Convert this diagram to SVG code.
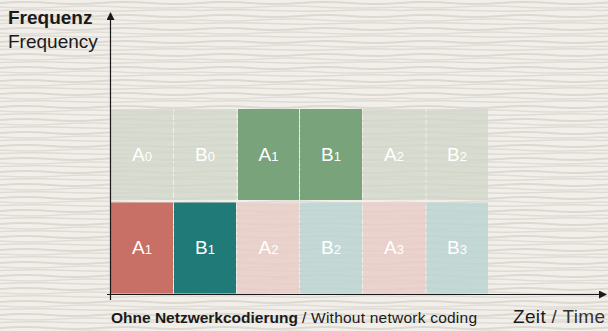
<svg xmlns="http://www.w3.org/2000/svg" width="608" height="331" viewBox="0 0 608 331">
<style>
.lbl{font-family:"Liberation Sans",Arial,sans-serif;font-size:19px;fill:#ffffff;text-anchor:middle}
.sub{font-size:13px}
.ax{stroke:#1a1a1a;stroke-width:1.2;fill:none}
.t{font-family:"Liberation Sans",Arial,sans-serif;fill:#1a1a1a}
</style>
<defs>
<pattern id="wave" x="0" y="0" width="200" height="13" patternUnits="userSpaceOnUse">
<path d="M0 3 Q25 1 50 3 T100 3 T150 3 T200 3" stroke="#dcd9d1" stroke-width="1.8" fill="none"/>
<path d="M0 7 Q30 9 60 7 T120 7 T200 7" stroke="#e0ddd6" stroke-width="1.4" fill="none"/>
<path d="M0 10.5 Q35 9 70 10.5 T140 10.5 T200 10.5" stroke="#dedbd4" stroke-width="1.6" fill="none"/>
</pattern>
<marker id="ah" markerWidth="8" markerHeight="8" refX="7" refY="4" orient="auto" markerUnits="userSpaceOnUse">
<path d="M0 0 L8 4 L0 8 Z" fill="#1a1a1a"/>
</marker>
</defs>
<rect width="608" height="331" fill="#f2efeb"/>
<rect width="608" height="331" fill="url(#wave)"/>
<g id="cells">
<g id="A0"><rect x="111" y="109" width="62" height="91" fill="#d2d7c9" fill-opacity="0.8"/><text class="lbl" x="142" y="161">A<tspan class="sub">0</tspan></text></g>
<g id="B0"><rect x="174" y="109" width="62.5" height="91" fill="#d2d7c9" fill-opacity="0.8"/><text class="lbl" x="205" y="161">B<tspan class="sub">0</tspan></text></g>
<g id="A1top"><rect x="238" y="109" width="61" height="91" fill="#79a37b"/><text class="lbl" x="268.5" y="161">A<tspan class="sub">1</tspan></text></g>
<g id="B1top"><rect x="300" y="109" width="62" height="91" fill="#79a37b"/><text class="lbl" x="331" y="161">B<tspan class="sub">1</tspan></text></g>
<g id="A2top"><rect x="363" y="109" width="62.5" height="91" fill="#d2d7c9" fill-opacity="0.8"/><text class="lbl" x="394" y="161">A<tspan class="sub">2</tspan></text></g>
<g id="B2top"><rect x="426.5" y="109" width="61.5" height="91" fill="#d2d7c9" fill-opacity="0.8"/><text class="lbl" x="457" y="161">B<tspan class="sub">2</tspan></text></g>
<g id="A1bot"><rect x="111" y="202.5" width="62" height="91" fill="#c86f66"/><text class="lbl" x="142" y="254">A<tspan class="sub">1</tspan></text></g>
<g id="B1bot"><rect x="174" y="202.5" width="62" height="91" fill="#207a77"/><text class="lbl" x="205" y="254">B<tspan class="sub">1</tspan></text></g>
<g id="A2bot"><rect x="237" y="202.5" width="62" height="91" fill="#e9cdc8" fill-opacity="0.85"/><text class="lbl" x="268.5" y="254">A<tspan class="sub">2</tspan></text></g>
<g id="B2bot"><rect x="300" y="202.5" width="62" height="91" fill="#bcd5d2" fill-opacity="0.85"/><text class="lbl" x="331" y="254">B<tspan class="sub">2</tspan></text></g>
<g id="A3bot"><rect x="363" y="202.5" width="62.5" height="91" fill="#e9cdc8" fill-opacity="0.85"/><text class="lbl" x="394" y="254">A<tspan class="sub">3</tspan></text></g>
<g id="B3bot"><rect x="426.5" y="202.5" width="61.5" height="91" fill="#bcd5d2" fill-opacity="0.85"/><text class="lbl" x="457" y="254">B<tspan class="sub">3</tspan></text></g>
</g>
<g id="axes">
<line class="ax" x1="110.5" y1="300" x2="110.5" y2="13" marker-end="url(#ah)"/>
<line class="ax" x1="107" y1="294.5" x2="606" y2="294.5" marker-end="url(#ah)"/>
</g>
<g id="labels">
<text class="t" x="8" y="24" font-size="19" font-weight="bold">Frequenz</text>
<text class="t" x="8" y="48" font-size="19" fill="#2a2a2a">Frequency</text>
<text class="t" x="111" y="323" font-size="15.5" font-weight="bold">Ohne Netzwerkcodierung</text>
<text class="t" x="302" y="323" font-size="15.5" fill="#333" textLength="175" lengthAdjust="spacing">/ Without network coding</text>
<text class="t" x="513" y="323" font-size="19" textLength="92" lengthAdjust="spacing">Zeit<tspan fill="#333"> / Time</tspan></text>
</g>
</svg>
